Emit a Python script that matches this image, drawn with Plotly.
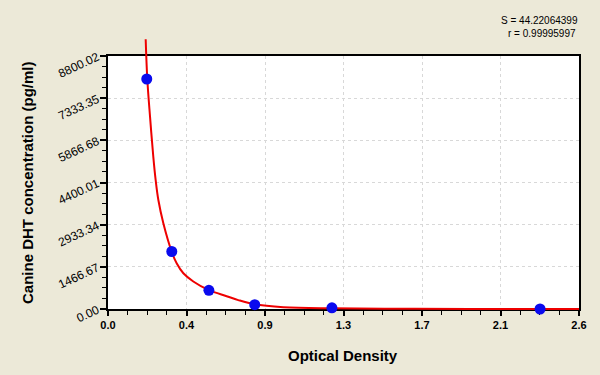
import plotly.graph_objects as go

# Standard points (optical density vs concentration)
od = [0.214, 0.352, 0.557, 0.810, 1.236, 2.385]
conc = [8000, 2000, 650, 150, 40, 0]

# Fitted curve
curve_od = [0.208, 0.217, 0.232, 0.250, 0.263, 0.278, 0.3055, 0.3515, 0.379, 0.416,
            0.471, 0.5575, 0.655, 0.719, 0.808, 0.968, 1.235, 1.6, 2.0, 2.6]
curve_conc = [9380, 7990, 6690, 5300, 4490, 3790, 2980, 1993, 1589, 1242,
              957, 654, 445, 310, 167, 65, 24, 8, 3, 0]

x_tickvals = [0, 2.6/6, 2*2.6/6, 3*2.6/6, 4*2.6/6, 5*2.6/6, 2.6]
x_ticktext = ["0.0", "0.4", "0.9", "1.3", "1.7", "2.1", "2.6"]
y_tickvals = [0, 1466.67, 2933.34, 4400.01, 5866.68, 7333.35, 8800.02]
y_ticktext = ["0.00", "1466.67", "2933.34", "4400.01", "5866.68", "7333.35", "8800.02"]

YMAX = 8800.02
W, H = 600, 375
mt, mb, ml, mr = 36, 62, 108, 21
ph = H - mt - mb
d0 = (H - mb - 309) / ph
d1 = (H - mb - 56) / ph
upp = YMAX / (309 - 56)
y2min = -((H - mb) - 309) * upp
y2max = YMAX + (56 - mt) * upp

fig = go.Figure()
fig.add_trace(go.Scatter(x=curve_od, y=curve_conc, mode="lines",
                         line=dict(color="#EE0000", width=2, shape="spline", smoothing=1.0),
                         xaxis="x2", yaxis="y2", showlegend=False, hoverinfo="skip"))
fig.add_trace(go.Scatter(x=od, y=conc, mode="markers",
                         marker=dict(color="#0A0AEE", size=11),
                         xaxis="x2", yaxis="y2", showlegend=False, cliponaxis=False))

font = "Liberation Sans, Arial, sans-serif"
grid = dict(showgrid=True, gridcolor="#D8D8D8", griddash="dot", gridwidth=1)
fig.update_layout(
    width=W, height=H,
    margin=dict(l=ml, r=mr, t=mt, b=mb),
    paper_bgcolor="#ECE9D8",
    plot_bgcolor="rgba(0,0,0,0)",
    font=dict(family=font, color="black"),
    xaxis=dict(domain=[0, 1], range=[0, 2.6], anchor="y",
               tickmode="array", tickvals=x_tickvals,
               ticktext=["<b>%s</b>" % t for t in x_ticktext],
               tickfont=dict(size=11), ticks="outside", ticklen=5, tickwidth=1.5,
               tickcolor="black",
               minor=dict(tick0=0, dtick=2.6/24, ticks="outside", ticklen=4,
                          tickwidth=1.2, tickcolor="black", showgrid=False),
               showline=True, linecolor="black", linewidth=2, mirror=True,
               zeroline=False, fixedrange=True, **grid),
    yaxis=dict(domain=[d0, d1], range=[0, YMAX], anchor="x",
               tickmode="array", tickvals=y_tickvals, ticktext=y_ticktext,
               tickangle=-25, tickfont=dict(size=12),
               ticks="outside", ticklen=6, tickwidth=1.5, tickcolor="black",
               minor=dict(tick0=0, dtick=YMAX/24, ticks="outside", ticklen=4,
                          tickwidth=1.2, tickcolor="black", showgrid=False),
               showline=True, linecolor="black", linewidth=2, mirror=True,
               zeroline=False, fixedrange=True, **grid),
    xaxis2=dict(domain=[0, 1], range=[0, 2.6], anchor="y2", visible=False, fixedrange=True),
    yaxis2=dict(domain=[0, 1], range=[y2min, y2max], anchor="x2", visible=False, fixedrange=True),
    shapes=[dict(type="rect", xref="x", yref="y", x0=0, x1=2.6, y0=0, y1=YMAX,
                 fillcolor="white", line=dict(width=0), layer="below")],
    annotations=[
        dict(text="S = 44.22064399", x=(580 - ml) / (W - ml - mr), y=(H - mb - 20) / ph,
             xref="paper", yref="paper", xanchor="right", yanchor="middle",
             showarrow=False, font=dict(size=10, family=font)),
        dict(text="r = 0.99995997", x=(578 - ml) / (W - ml - mr), y=(H - mb - 34) / ph,
             xref="paper", yref="paper", xanchor="right", yanchor="middle",
             showarrow=False, font=dict(size=10, family=font)),
        dict(text="<b>Optical Density</b>", x=(343 - ml) / (W - ml - mr), y=(H - mb - 355) / ph,
             xref="paper", yref="paper", xanchor="center", yanchor="middle",
             showarrow=False, font=dict(size=15, family=font)),
        dict(text="<b>Canine DHT concentration (pg/ml)</b>", x=(27 - ml) / (W - ml - mr),
             y=(H - mb - 183) / ph, textangle=-90,
             xref="paper", yref="paper", xanchor="center", yanchor="middle",
             showarrow=False, font=dict(size=15, family=font)),
    ],
)

fig.write_html("out.html", config={"displayModeBar": False},
               post_script="document.body.style.margin='0';")
